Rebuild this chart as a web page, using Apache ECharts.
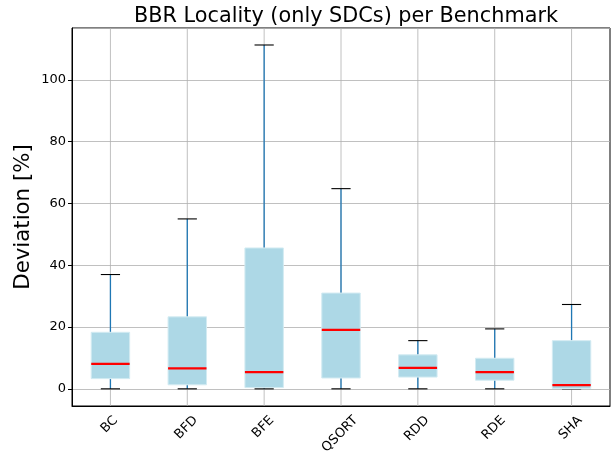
<!DOCTYPE html>
<html>
<head>
<meta charset="utf-8">
<script src="https://cdn.jsdelivr.net/npm/echarts@6/dist/echarts.min.js"></script>
<style>html,body{margin:0;padding:0;background:#fff}#c{width:613px;height:456px}</style>
</head>
<body>
<div id="c"></div>
<script>
const categories = ['BC', 'BFD', 'BFE', 'QSORT', 'RDD', 'RDE', 'SHA'];
const whiskerLow = [0, 0, 0, 0, 0, 0, 0];
const q1 = [3.3, 1.3, 0.4, 3.5, 3.8, 2.8, 0.1];
const median = [8.1, 6.6, 5.4, 19.1, 6.8, 5.4, 1.2];
const q3 = [18.3, 23.3, 45.6, 31.0, 11.0, 9.9, 15.6];
const whiskerHigh = [37.0, 55.0, 111.3, 64.8, 15.6, 19.4, 27.3];

const Y_MIN = -5.56, Y_MAX = 116.8;
const FONT = 'DejaVu Sans';
const TICK_FS = 13;

const data = categories.map((c, i) => [i, whiskerLow[i], q1[i], median[i], q3[i], whiskerHigh[i]]);

const measureCtx = document.createElement('canvas').getContext('2d');
measureCtx.font = TICK_FS + 'px "' + FONT + '"';

const chart = echarts.init(document.getElementById('c'), null, {renderer: 'canvas'});

function renderItem(params, api) {
  const i = api.value(0);
  const lo = api.value(1), a = api.value(2), m = api.value(3), b = api.value(4), hi = api.value(5);
  const bw = api.size([1, 0])[0] * 0.5;
  const cw = bw * 0.5;
  const pLo = api.coord([i, lo]), pA = api.coord([i, a]), pM = api.coord([i, m]),
        pB = api.coord([i, b]), pHi = api.coord([i, hi]);
  const gTop = api.coord([i, Y_MAX]), gBot = api.coord([i, Y_MIN]);
  const x = pM[0];
  const label = categories[i];
  const L = measureCtx.measureText(label).width;
  const h = 0.73 * TICK_FS;
  const side = (L + h) / Math.SQRT2;
  return {
    type: 'group',
    children: [
      {type: 'line', shape: {x1: x, y1: gTop[1], x2: x, y2: gBot[1]}, style: {stroke: '#b0b0b0', lineWidth: 0.8}, z2: 0},
      {type: 'line', shape: {x1: x, y1: pB[1], x2: x, y2: pHi[1]}, style: {stroke: '#1f77b4', lineWidth: 1.3}, z2: 1},
      {type: 'line', shape: {x1: x, y1: pLo[1], x2: x, y2: pA[1]}, style: {stroke: '#1f77b4', lineWidth: 1.3}, z2: 1},
      {type: 'line', shape: {x1: x - cw / 2, y1: pHi[1], x2: x + cw / 2, y2: pHi[1]}, style: {stroke: '#000', lineWidth: 1.1}, z2: 2},
      {type: 'line', shape: {x1: x - cw / 2, y1: pLo[1], x2: x + cw / 2, y2: pLo[1]}, style: {stroke: '#000', lineWidth: 1.1}, z2: 2},
      {type: 'rect', shape: {x: x - bw / 2, y: pB[1], width: bw, height: pA[1] - pB[1]}, style: {fill: '#add8e6', stroke: '#d3ebf2', lineWidth: 1}, z2: 3},
      {type: 'line', shape: {x1: x - bw / 2, y1: pM[1], x2: x + bw / 2, y2: pM[1]}, style: {stroke: '#ff0000', lineWidth: 2.2}, z2: 4},
      {type: 'text', x: x - 1, y: gBot[1] + 9 + side / 2, rotation: Math.PI / 4,
       style: {text: label, fill: '#000', font: TICK_FS + 'px "' + FONT + '"', textAlign: 'center', textVerticalAlign: 'middle'}, z2: 5}
    ]
  };
}

chart.setOption({
  animation: false,
  backgroundColor: '#fff',
  textStyle: {fontFamily: FONT},
  title: {
    text: 'BBR Locality (only SDCs) per Benchmark',
    left: 341, top: 1, textAlign: 'center',
    textStyle: {fontFamily: FONT, fontSize: 20.8, fontWeight: 'normal', color: '#000'}
  },
  grid: {left: 72, right: 3, top: 28, bottom: 50, show: true, borderColor: '#000', borderWidth: 1, backgroundColor: 'transparent'},
  xAxis: {
    type: 'category', data: categories, boundaryGap: true,
    axisLine: {onZero: false, lineStyle: {color: '#000', width: 1}},
    axisTick: {alignWithLabel: true, length: 4, lineStyle: {color: '#000'}},
    axisLabel: {show: false},
    splitLine: {show: false}
  },
  yAxis: {
    type: 'value', min: Y_MIN, max: Y_MAX, splitNumber: 6,
    name: 'Deviation [%]', nameLocation: 'middle', nameGap: 38, nameMoveOverlap: false,
    nameTextStyle: {fontFamily: FONT, fontSize: 21.3, color: '#000'},
    axisLine: {show: true, lineStyle: {color: '#000', width: 1}},
    axisTick: {show: true, length: 4, lineStyle: {color: '#000'}},
    axisLabel: {fontSize: TICK_FS, color: '#000', fontFamily: FONT, showMinLabel: false, showMaxLabel: false, margin: 6},
    splitLine: {show: true, lineStyle: {color: '#b0b0b0', width: 0.8}}
  },
  series: [{
    type: 'custom',
    renderItem: renderItem,
    data: data,
    encode: {x: 0, y: [1, 2, 3, 4, 5]},
    clip: false
  }]
});
</script>
</body>
</html>
